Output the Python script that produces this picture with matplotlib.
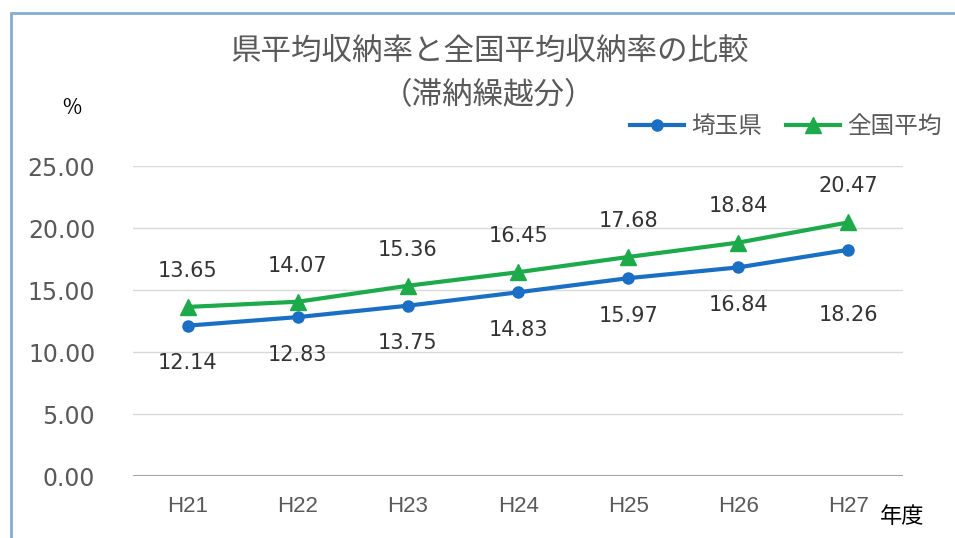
import numpy as np
import matplotlib.pyplot as plt
from matplotlib.patches import Rectangle

plt.rcParams['font.family'] = ['Noto Sans CJK JP', 'DejaVu Sans']

# data
years = ['H21', 'H22', 'H23', 'H24', 'H25', 'H26', 'H27']
saitama = [12.14, 12.83, 13.75, 14.83, 15.97, 16.84, 18.26]
national = [13.65, 14.07, 15.36, 16.45, 17.68, 18.84, 20.47]

blue = '#1a6fc4'
green = '#1daa4a'
gray = '#595959'

fig = plt.figure(figsize=(9.55, 5.38), dpi=100)
ax = fig.add_axes([0.139, 0.115, 0.807, 0.576])

x = np.arange(len(years))
ax.plot(x, saitama, color=blue, lw=3, marker='o', ms=8, label='埼玉県')
ax.plot(x, national, color=green, lw=3, marker='^', ms=11, label='全国平均')

# data labels
for i in range(len(x)):
    off = -27 if i < 6 else -47
    ax.annotate(f'{saitama[i]:.2f}', (x[i], saitama[i]), xytext=(0, off),
                textcoords='offset points', ha='center', va='center',
                fontsize=15, color='#333333', family='DejaVu Sans')
    ax.annotate(f'{national[i]:.2f}', (x[i], national[i]), xytext=(0, 26),
                textcoords='offset points', ha='center', va='center',
                fontsize=15, color='#333333', family='DejaVu Sans')

ax.set_xlim(-0.5, len(years) - 0.5)
ax.set_ylim(0, 25)
ax.set_yticks(np.arange(0, 26, 5))
ax.set_yticklabels([f'{v:.2f}' for v in np.arange(0, 26, 5)],
                   family='DejaVu Sans', fontsize=17)
ax.set_xticks(x)
ax.set_xticklabels(years, family='Liberation Sans', fontsize=16)
ax.tick_params(axis='both', length=0, labelcolor=gray)
ax.tick_params(axis='x', pad=14)
ax.tick_params(axis='y', pad=27)
ax.grid(axis='y', color='#d9d9d9', lw=1)
ax.axhline(0, color='#a6a6a6', lw=1.5)
for s in ax.spines.values():
    s.set_visible(False)

ax.legend(loc='lower right', bbox_to_anchor=(1.062, 1.06), ncol=2, frameon=False,
          fontsize=17, handlelength=2.3, handletextpad=0.3, columnspacing=1.0,
          borderaxespad=0, labelcolor=gray)

fig.text(0.513, 0.905, '県平均収納率と全国平均収納率の比較', ha='center', va='center',
         fontsize=22, color=gray)
fig.text(0.511, 0.823, '（滞納繰越分）', ha='center', va='center',
         fontsize=22, color=gray)
fig.text(0.075, 0.80, '%', ha='center', va='center', fontsize=15, color='black')
fig.text(0.945, 0.04, '年度', ha='center', va='center', fontsize=16, color='black')

fig.patches.append(Rectangle((11 / 955, -0.05), 1.0, 1 - 13 / 538 + 0.05,
                             transform=fig.transFigure, fill=False,
                             edgecolor='#86abd3', lw=2))

fig.savefig('out.png', dpi=100)
